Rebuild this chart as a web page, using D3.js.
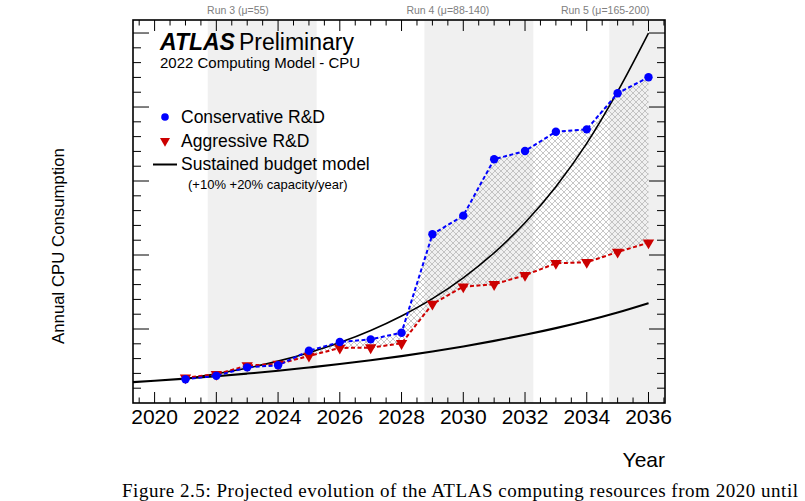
<!DOCTYPE html>
<html>
<head>
<meta charset="utf-8">
<script src="https://cdn.jsdelivr.net/npm/d3@7"></script>
<style>
  html, body { margin: 0; padding: 0; background: #fff; }
  svg { display: block; }
  text { font-family: "Liberation Sans", Arial, Helvetica, sans-serif; }
  text.caption { font-family: "Liberation Serif", "Times New Roman", serif; }
</style>
</head>
<body>
<svg id="chart" width="805" height="501"></svg>
<script>
// ---------------- data ----------------
const years = [2021, 2022, 2023, 2024, 2025, 2026, 2027, 2028,
               2029, 2030, 2031, 2032, 2033, 2034, 2035, 2036];
const conservative = [1.60, 1.84, 2.41, 2.55, 3.53, 4.12, 4.30, 4.75,
                      11.40, 12.66, 16.47, 17.03, 18.33, 18.49, 20.93, 22.01];
const aggressive = [1.71, 1.94, 2.53, 2.64, 3.18, 3.72, 3.74, 4.03,
                    6.69, 7.86, 8.02, 8.63, 9.44, 9.51, 10.20, 10.83];
const budgetYears10 = [2019, 2020, 2021, 2022, 2023, 2024, 2025, 2026, 2027,
                       2028, 2029, 2030, 2031, 2032, 2033, 2034, 2035, 2036];
const budget10 = [1.37, 1.50, 1.65, 1.81, 1.99, 2.18, 2.40, 2.63, 2.89,
                  3.17, 3.48, 3.82, 4.20, 4.61, 5.06, 5.56, 6.12, 6.75];
const budgetYears20 = [2021, 2022, 2023, 2024, 2025, 2026, 2027, 2028,
                       2029, 2030, 2031, 2032, 2033, 2034, 2035, 2036];
const budget20 = [1.64, 1.97, 2.36, 2.83, 3.40, 4.08, 4.90, 5.88,
                  7.05, 8.46, 10.15, 12.18, 14.62, 17.54, 21.05, 25.0];
const runNames = ["Run 3 (\u03bc=55)", "Run 4 (\u03bc=88-140)", "Run 5 (\u03bc=165-200)"];
const runStart = [2021.72, 2028.74, 2034.73];
const runEnd = [2025.25, 2032.27, 2036.6];
const runLabelYear = [2022.7, 2029.5, 2034.6];
const xTickLabels = ["2020", "2022", "2024", "2026", "2028", "2030", "2032", "2034", "2036"];
const xDomain = [2019.3, 2036.535];
const yDomain = [0, 25.88];

// ---------------- layout ----------------
const L = 133, R = 665, T = 20, B = 403;
const svg = d3.select("#chart");
const x = d3.scaleLinear().domain(xDomain).range([L, R]);
const y = d3.scaleLinear().domain(yDomain).range([B, T]);

const defs = svg.append("defs");
defs.append("clipPath").attr("id", "frameclip")
  .append("rect").attr("x", L).attr("y", T).attr("width", R - L).attr("height", B - T);
const pat = defs.append("pattern").attr("id", "hatch")
  .attr("patternUnits", "userSpaceOnUse").attr("width", 6).attr("height", 6);
pat.append("path").attr("d", "M0,0 L6,6 M6,0 L0,6 M-3,3 L3,9 M3,-3 L9,3 M-3,3 L3,-3 M3,9 L9,3")
  .attr("stroke", "#b4b4b4").attr("stroke-width", 0.75).attr("fill", "none");

const plot = svg.append("g").attr("clip-path", "url(#frameclip)");

// run bands
plot.selectAll("rect.band").data(runStart).enter().append("rect")
  .attr("class", "band")
  .attr("x", (d) => x(d))
  .attr("y", T)
  .attr("width", (d, i) => x(runEnd[i]) - x(d))
  .attr("height", B - T)
  .attr("fill", "#f0f0f0");

// hatch band between scenarios
const area = d3.area()
  .x((d, i) => x(years[i]))
  .y0((d, i) => y(aggressive[i]))
  .y1((d, i) => y(conservative[i]));
plot.append("path").datum(years).attr("d", area)
  .attr("fill", "url(#hatch)").attr("stroke", "none");

// budget curves
const lineB = (ys) => d3.line().curve(d3.curveMonotoneX)
  .x((d, i) => x(ys[i])).y((d) => y(d));
plot.append("path").datum(budget10).attr("d", lineB(budgetYears10))
  .attr("fill", "none").attr("stroke", "#000").attr("stroke-width", 2.1);
plot.append("path").datum(budget20).attr("d", lineB(budgetYears20))
  .attr("fill", "none").attr("stroke", "#000").attr("stroke-width", 1.6);

// scenario lines
const lineS = d3.line().x((d, i) => x(years[i])).y((d) => y(d));
plot.append("path").datum(aggressive).attr("d", lineS)
  .attr("fill", "none").attr("stroke", "#d00000").attr("stroke-width", 2)
  .attr("stroke-dasharray", "4,2.5");
plot.append("path").datum(conservative).attr("d", lineS)
  .attr("fill", "none").attr("stroke", "#0000ff").attr("stroke-width", 2)
  .attr("stroke-dasharray", "4,2.5");

// markers
const tri = d3.symbol().type(d3.symbolTriangle).size(56);
plot.selectAll("path.tri").data(aggressive).enter().append("path")
  .attr("class", "tri").attr("d", tri)
  .attr("transform", (d, i) => `translate(${x(years[i])},${y(d)}) rotate(180)`)
  .attr("fill", "#cc0000");
plot.selectAll("circle.cons").data(conservative).enter().append("circle")
  .attr("class", "cons")
  .attr("cx", (d, i) => x(years[i])).attr("cy", (d) => y(d)).attr("r", 4.2)
  .attr("fill", "#0000ff");

// ---------------- axes / frame ----------------
const xTicks = d3.range(2019.5, 2036.6, 0.5);
const yTicks = d3.range(1, 26, 1);
const isMajX = (v) => Math.abs(v % 2) < 1e-6;
const isMajY = (v) => v % 5 === 0;
const tk = svg.append("g").attr("stroke", "#000").attr("stroke-width", 1);
xTicks.forEach((v) => {
  const len = isMajX(v) ? 11 : 5.5;
  tk.append("line").attr("x1", x(v)).attr("x2", x(v)).attr("y1", B).attr("y2", B - len);
  tk.append("line").attr("x1", x(v)).attr("x2", x(v)).attr("y1", T).attr("y2", T + len);
});
yTicks.forEach((v) => {
  const len = isMajY(v) ? 16 : 8;
  tk.append("line").attr("x1", L).attr("x2", L + len).attr("y1", y(v)).attr("y2", y(v));
  tk.append("line").attr("x1", R).attr("x2", R - len).attr("y1", y(v)).attr("y2", y(v));
});
svg.append("rect").attr("x", L).attr("y", T).attr("width", R - L).attr("height", B - T)
  .attr("fill", "none").attr("stroke", "#000").attr("stroke-width", 1.6);

svg.selectAll("text.xt").data(xTickLabels).enter().append("text")
  .attr("class", "xt")
  .attr("x", (d) => x(+d)).attr("y", 424)
  .attr("text-anchor", "middle").attr("font-size", 21).attr("fill", "#000")
  .text((d) => d);

svg.append("text").attr("x", R).attr("y", 467).attr("text-anchor", "end")
  .attr("font-size", 21).text("Year");
svg.append("text").attr("transform", "translate(64,246) rotate(-90)")
  .attr("text-anchor", "middle").attr("font-size", 16.8).text("Annual CPU Consumption");

// run labels
svg.selectAll("text.run").data(runNames).enter().append("text")
  .attr("class", "run")
  .attr("x", (d, i) => x(runLabelYear[i])).attr("y", 14)
  .attr("text-anchor", "middle").attr("font-size", 10.5).attr("fill", "#808080")
  .text((d) => d);

// ATLAS label
const t1 = svg.append("text").attr("x", 160).attr("y", 50).attr("font-size", 23);
t1.append("tspan").attr("font-weight", "bold").attr("font-style", "italic").text("ATLAS");
t1.append("tspan").attr("dx", 4).text("Preliminary");
svg.append("text").attr("x", 160).attr("y", 68).attr("font-size", 15)
  .text("2022 Computing Model - CPU");

// legend
svg.append("circle").attr("cx", 165).attr("cy", 117).attr("r", 3.8).attr("fill", "#0000ff");
svg.append("path").attr("d", d3.symbol().type(d3.symbolTriangle).size(44))
  .attr("transform", "translate(165,141) rotate(180)").attr("fill", "#cc0000");
svg.append("line").attr("x1", 153).attr("x2", 177).attr("y1", 164.5).attr("y2", 164.5)
  .attr("stroke", "#000").attr("stroke-width", 2);
const legT = ["Conservative R&D", "Aggressive R&D", "Sustained budget model"];
const legY = [123, 147, 170];
svg.selectAll("text.leg").data(legT).enter().append("text")
  .attr("class", "leg").attr("x", 181).attr("y", (d, i) => legY[i])
  .attr("font-size", 17.5).text((d) => d);
svg.append("text").attr("x", 188).attr("y", 189).attr("font-size", 13)
  .text("(+10% +20% capacity/year)");

// caption (at the bottom edge)
svg.append("text").attr("class", "caption").attr("x", 122).attr("y", 497)
  .attr("font-size", 19)
  .attr("textLength", 676).attr("lengthAdjust", "spacing")
  .text("Figure 2.5: Projected evolution of the ATLAS computing resources from 2020 until");
</script>
</body>
</html>
